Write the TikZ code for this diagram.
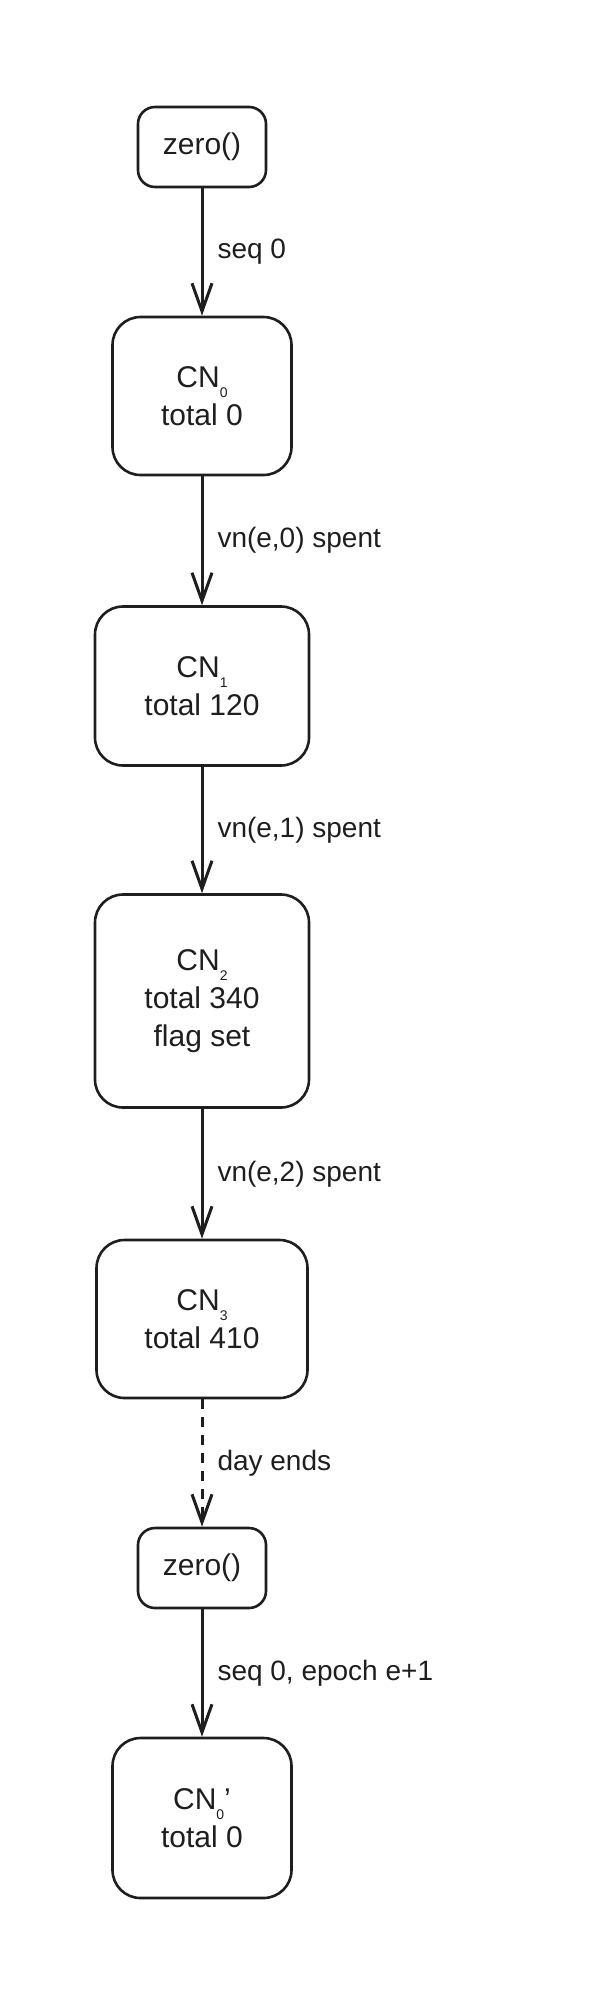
\documentclass[tikz,border=0pt]{standalone}
\usepackage{fontspec}
\setmainfont{Liberation Sans}
\usetikzlibrary{arrows.meta}
\definecolor{ink}{HTML}{1E1E1E}
\newcommand{\cnsub}[1]{\raisebox{-10pt}{\fontsize{14}{14}\selectfont #1}}

\begin{document}
\begin{tikzpicture}[x=1pt,y=-1pt,
		box/.style={draw=ink,text=ink,line width=2.6pt,rounded corners=28pt,align=center,inner sep=0pt,font=\fontsize{30}{38}\selectfont},
		callbox/.style={box,rounded corners=17pt,minimum width=128pt,minimum height=80pt},
		link/.style={draw=ink,line width=3pt,-{Straight Barb[length=28pt,width=20pt]}},
		daydash/.style={dash pattern=on 10pt off 8pt},
		lbl/.style={text=ink,font=\fontsize{28}{34}\selectfont,inner sep=0pt}]
			\useasboundingbox (0,0) rectangle (590,2005);
			
			\node[callbox] (zero1) at (202,147) {zero()};
			\node[box,minimum width=179pt,minimum height=158pt] (cn0) at (202,396) {CN\cnsub{0}\\total 0};
			\node[box,minimum width=214pt,minimum height=159pt] (cn1) at (202,686) {CN\cnsub{1}\\total 120};
			\node[box,minimum width=214pt,minimum height=213pt] (cn2) at (202,1001) {CN\cnsub{2}\\total 340\\flag set};
			\node[box,minimum width=211pt,minimum height=158pt] (cn3) at (202,1319) {CN\cnsub{3}\\total 410};
			\node[callbox] (zero2) at (202,1568) {zero()};
			\node[box,minimum width=179pt,minimum height=160pt] (cn0new) at (202,1818) {CN\cnsub{0}'\\total 0};
			
			\foreach \a/\b/\t/\s in {zero1/cn0/{seq 0}/solid, cn0/cn1/{vn(e,0) spent}/solid, cn1/cn2/{vn(e,1) spent}/solid, cn2/cn3/{vn(e,2) spent}/solid, cn3/zero2/{day ends}/daydash, zero2/cn0new/{seq 0, epoch e+1}/solid}
			{
				\draw[link,\s] (\a) -- (\b) node[midway,right=14pt,lbl] {\t};
			}
			
		\end{tikzpicture}
\end{document}
